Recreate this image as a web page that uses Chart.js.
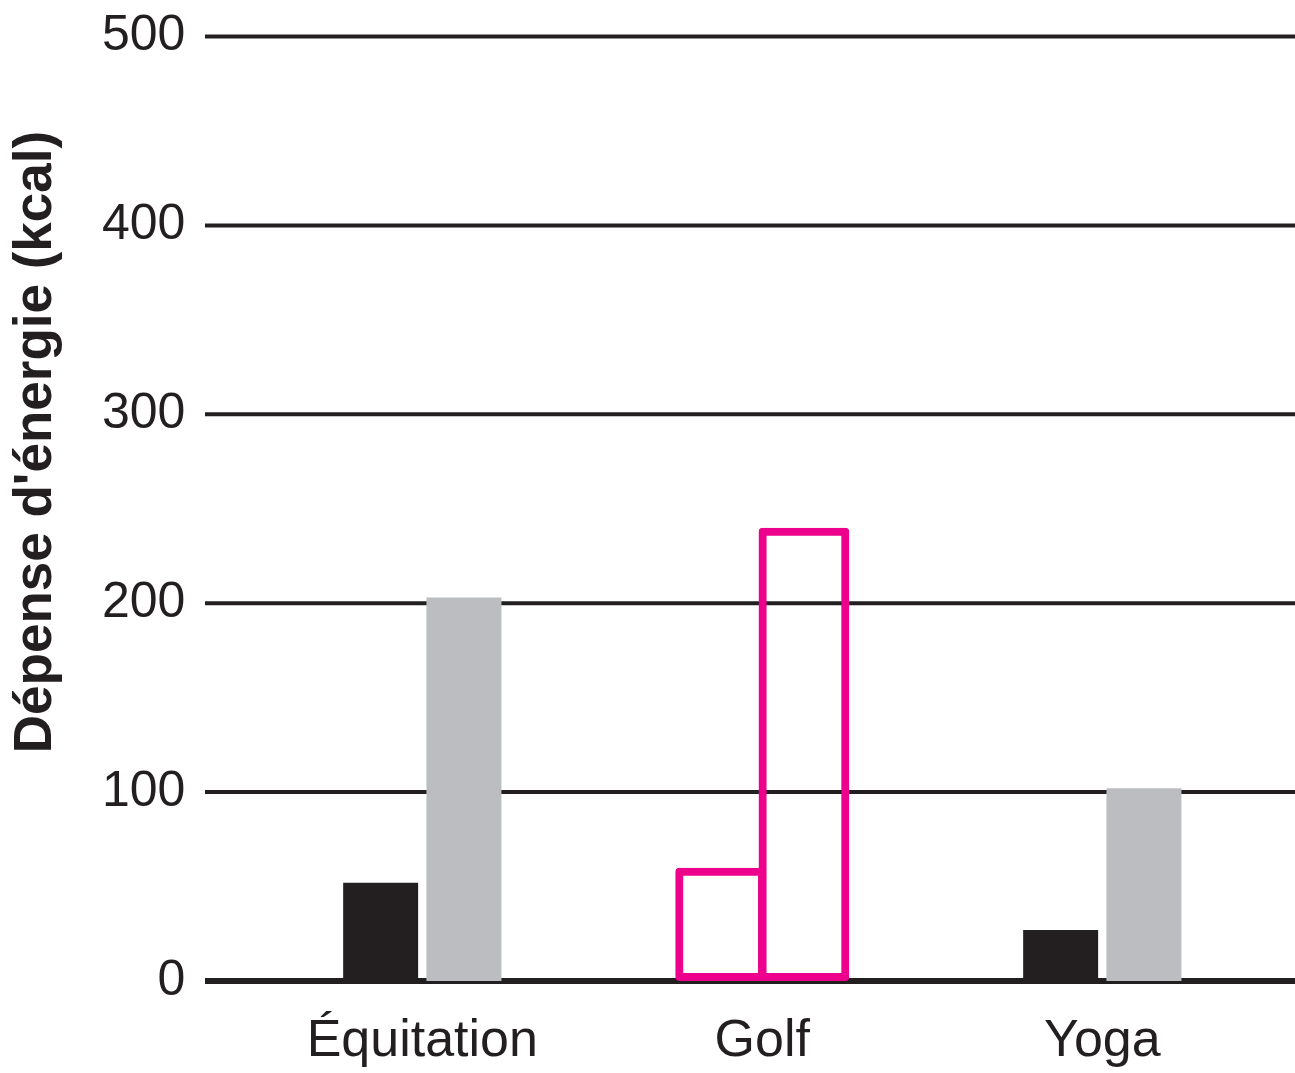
<!DOCTYPE html>
<html>
<head>
<meta charset="utf-8">
<script src="https://cdn.jsdelivr.net/npm/chart.js@4"></script>
<style>
html, body { margin: 0; padding: 0; background: #fff; }
canvas { display: block; }
</style>
</head>
<body>
<canvas id="chart" width="1295" height="1073"></canvas>
<script>
const categories = ["Équitation", "Golf", "Yoga"];
const blackValues = [52, null, 27];
const grayValues = [203, null, 102];
const pinkLowValues = [null, 60, null];
const pinkHighValues = [null, 240, null];
const yTicks = [0, 100, 200, 300, 400, 500];
const yTitle = "Dépense d'énergie (kcal)";

const ink = "#231f20";
const gray = "#bcbdc0";
const pink = "#ec008c";
const fontFamily = '"Liberation Sans", Arial, Helvetica, sans-serif';

// horizontal rules run past the plot area, from the labels to the right edge
const fullGrid = {
    id: "fullGrid",
    beforeDatasetsDraw(chart) {
        const ctx = chart.ctx;
        const y = chart.scales.y;
        ctx.save();
        ctx.strokeStyle = ink;
        yTicks.forEach(v => {
            const py = y.getPixelForValue(v);
            ctx.lineWidth = v === 0 ? 6 : 4;
            ctx.beginPath();
            ctx.moveTo(205, py);
            ctx.lineTo(chart.width, py);
            ctx.stroke();
        });
        ctx.restore();
    },
    afterDraw(chart) {
        const ctx = chart.ctx;
        ctx.save();
        ctx.fillStyle = ink;
        ctx.font = "bold 53px " + fontFamily;
        ctx.textAlign = "center";
        ctx.textBaseline = "middle";
        ctx.translate(36, 442);
        ctx.rotate(-Math.PI / 2);
        ctx.fillText(yTitle, 0, 0);
        ctx.restore();
    }
};

const solidBar = { barPercentage: 0.9, categoryPercentage: 0.49, borderWidth: 0 };
// the two golf bars overlap slightly so their shared side reads as one line
const outlineBar = {
    barPercentage: 1.09,
    categoryPercentage: 0.49,
    backgroundColor: "rgba(0,0,0,0)",
    borderColor: pink,
    borderWidth: 8,
    borderSkipped: false,
    borderRadius: 4
};

new Chart(document.getElementById("chart"), {
    type: "bar",
    data: {
        labels: categories,
        datasets: [
            { ...solidBar, data: blackValues, backgroundColor: ink },
            { ...solidBar, data: grayValues, backgroundColor: gray },
            { ...outlineBar, data: pinkLowValues },
            { ...outlineBar, data: pinkHighValues }
        ]
    },
    options: {
        responsive: false,
        animation: false,
        skipNull: true,
        layout: { padding: { top: 36.5, right: 22.7, left: 0, bottom: 0 } },
        plugins: { legend: { display: false }, tooltip: { enabled: false } },
        scales: {
            x: {
                grid: { display: false, drawTicks: false },
                border: { display: false },
                ticks: { color: ink, padding: 29, font: { family: fontFamily, size: 52 } },
                afterFit(scale) {
                    scale.height = 92;
                    scale.paddingLeft = 0;
                    scale.paddingRight = 0;
                }
            },
            y: {
                min: 0,
                max: 500,
                grid: { display: false, drawTicks: false },
                border: { display: false },
                ticks: { stepSize: 100, color: ink, padding: 67, font: { family: fontFamily, size: 50 } },
                afterFit(scale) {
                    scale.width = 252.3;
                    scale.paddingTop = 0;
                    scale.paddingBottom = 0;
                }
            }
        }
    },
    plugins: [fullGrid]
});
</script>
</body>
</html>
